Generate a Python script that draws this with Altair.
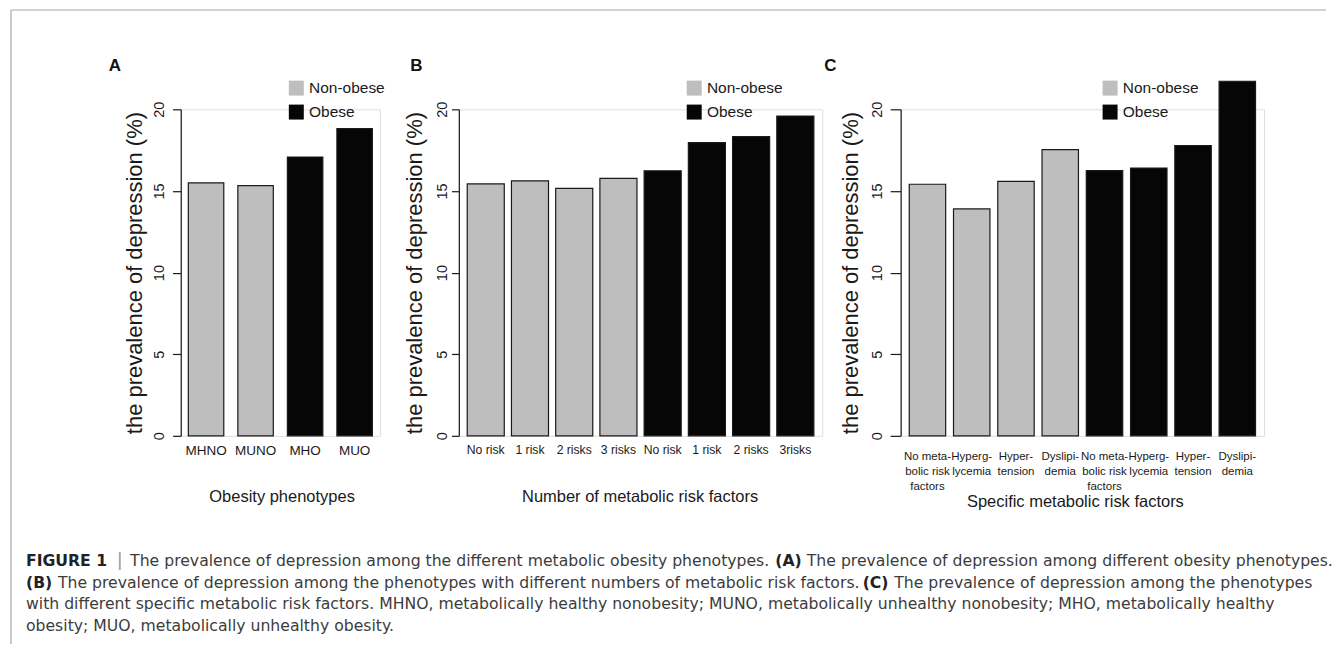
import altair as alt
import pandas as pd

FONT = "Liberation Sans"
CAP_FONT = "DejaVu Sans"
INK = "#1a1a1a"

# ---- data ----
A_labels = ["MHNO", "MUNO", "MHO", "MUO"]
A_groups = ["Non-obese", "Non-obese", "Obese", "Obese"]
A_values = [15.5, 15.33, 17.08, 18.82]

B_labels = ["No risk", "1 risk", "2 risks", "3 risks", "No risk", "1 risk", "2 risks", "3risks"]
B_groups = ["Non-obese"] * 4 + ["Obese"] * 4
B_values = [15.43, 15.62, 15.16, 15.77, 16.23, 17.96, 18.33, 19.59]

C_labels = ["No meta-~bolic risk~factors", "Hyperg-~lycemia", "Hyper-~tension", "Dyslipi-~demia",
            "No meta-~bolic risk~factors", "Hyperg-~lycemia", "Hyper-~tension", "Dyslipi-~demia"]
C_groups = ["Non-obese"] * 4 + ["Obese"] * 4
C_values = [15.41, 13.9, 15.59, 17.53, 16.24, 16.4, 17.78, 21.72]

Y_TICKS = [0, 5, 10, 15, 20]
GROUPS = ["Non-obese", "Obese"]
FILLS = ["#bebebe", "#060606"]
Y_TITLE = "the prevalence of depression (%)"

HEIGHT = 327

CAPTION = [
    # (text, x_abs, line, style)
    ("FIGURE 1", 24, 0, "bold"),
    ("|", 118, 0, "bar"),
    ("The prevalence of depression among the different metabolic obesity phenotypes.", 128.3, 0, "normal"),
    ("(A)", 774.5, 0, "bold"),
    ("The prevalence of depression among different obesity phenotypes.", 806, 0, "normal"),
    ("(B)", 24, 1, "bold"),
    ("The prevalence of depression among the phenotypes with different numbers of metabolic risk factors.", 56, 1, "normal"),
    ("(C)", 862, 1, "bold"),
    ("The prevalence of depression among the phenotypes", 893.5, 1, "normal"),
    ("with different specific metabolic risk factors. MHNO, metabolically healthy nonobesity; MUNO, metabolically unhealthy nonobesity; MHO, metabolically healthy", 24, 2, "normal"),
    ("obesity; MUO, metabolically unhealthy obesity.", 24, 3, "normal"),
]
CAP_LINE_Y = [561.5, 583.5, 604.5, 626.5]

A_ORIGIN = (179, 109.5)  # absolute position of panel A plot area


def panel(letter, labels, groups, values, xtitle, cfg):
    keys = [f"{g}|{l}" for g, l in zip(groups, labels)]
    df = pd.DataFrame({"key": keys, "group": groups, "value": values})
    bars = alt.Chart(df).mark_bar(stroke=INK, strokeWidth=1.2).encode(
        x=alt.X(
            "key:N", sort=keys,
            scale=alt.Scale(paddingInner=cfg["pI"], paddingOuter=cfg["pO"]),
            axis=alt.Axis(
                title=xtitle, labelExpr="split(split(datum.label, '|')[1], '~')",
                labelAngle=0, domain=False, ticks=False, tickSize=0,
                labelPadding=cfg["lp"], labelFontSize=cfg["lfs"], labelLineHeight=15,
                labelBaseline="top", labelFont=FONT, labelColor=INK, labelOverlap=False,
                titleFont=FONT, titleFontSize=16.5, titleFontWeight="normal", titleColor=INK,
                titleX=cfg["xtx"], titleY=cfg["xty"], titleBaseline="middle", titleAlign="center",
            ),
        ),
        y=alt.Y(
            "value:Q",
            scale=alt.Scale(domain=[0, 20], nice=False, zero=True),
            axis=alt.Axis(
                values=Y_TICKS, title=Y_TITLE, format="d", grid=False,
                labelAngle=270, labelAlign="center", labelBaseline="alphabetic",
                labelPadding=cfg["ylp"], tickSize=cfg["ts"], tickColor=INK, tickWidth=1.2,
                domainColor=INK, domainWidth=1.2,
                labelFontSize=14.5, labelFont=FONT, labelColor=INK,
                titleFont=FONT, titleFontSize=22, titleFontWeight="normal", titleColor=INK,
                titleX=cfg["ytx"], titleY=HEIGHT / 2, titleAngle=270,
                titleBaseline="middle", titleAlign="center",
            ),
        ),
        color=alt.Color(
            "group:N",
            scale=alt.Scale(domain=GROUPS, range=FILLS),
            legend=alt.Legend(
                title=None, orient="none", legendX=cfg["lx"], legendY=cfg["ly"],
                symbolType="square", symbolSize=225, symbolStrokeWidth=0, symbolOpacity=1,
                labelFont=FONT, labelFontSize=15.5, labelColor=INK, labelOffset=5,
                rowPadding=7, padding=0,
            ),
        ),
    )
    lab = alt.Chart(pd.DataFrame({"t": [letter]})).mark_text(
        font=FONT, fontSize=17, fontWeight="bold", align="left", baseline="middle", color="#111"
    ).encode(text="t:N", x=alt.value(cfg["px"]), y=alt.value(-43))
    return [bars, lab]


cfgA = dict(pI=0.284, pO=0.153, lp=8, lfs=13.5, xtx=101, xty=60.5, ylp=9, ts=8.3, ytx=-46.5,
            lx=108, ly=-29, px=-72)
cfgB = dict(pI=0.162, pO=0.19, lp=8, lfs=12.2, xtx=181, xty=60.5, ylp=4.5, ts=7.4, ytx=-44.5,
            lx=228, ly=-29, px=-48.7)
cfgC = dict(pI=0.177, pO=0.194, lp=14.5, lfs=11.5, xtx=174.5, xty=66, ylp=8.6, ts=10.5, ytx=-50.5,
            lx=202, ly=-29, px=-76.5)

layersA = panel("A", A_labels, A_groups, A_values, "Obesity phenotypes", cfgA)
layersB = panel("B", B_labels, B_groups, B_values, "Number of metabolic risk factors", cfgB)
layersC = panel("C", C_labels, C_groups, C_values, "Specific metabolic risk factors", cfgC)

# figure frame (top and left border lines) and caption, positioned relative to panel A
ox, oy = A_ORIGIN
one = pd.DataFrame({"a": [0]})
frame_top = alt.Chart(one).mark_rule(color="#a8a8a8", strokeWidth=1.2).encode(
    x=alt.value(9 - ox), x2=alt.value(1326 - ox), y=alt.value(10 - oy))
frame_left = alt.Chart(one).mark_rule(color="#a8a8a8", strokeWidth=1.2).encode(
    x=alt.value(9 - ox), y=alt.value(10 - oy), y2=alt.value(645 - oy))
caption_layers = [frame_top, frame_left]
for text, xa, line, style in CAPTION:
    props = dict(font=CAP_FONT, fontSize=15.7, align="left", baseline="middle", color="#3c3c3c")
    if style == "bold":
        props.update(fontWeight="bold", color="#222222")
    elif style == "bar":
        props.update(align="center", color="#9a9a9a", fontSize=18)
    caption_layers.append(
        alt.Chart(pd.DataFrame({"t": [text]})).mark_text(**props).encode(
            text="t:N", x=alt.value(xa - ox), y=alt.value(CAP_LINE_Y[line] - oy))
    )

pA = alt.layer(*layersA, *caption_layers).properties(width=199.5, height=HEIGHT)
pB = alt.layer(*layersB).properties(width=364, height=HEIGHT)
pC = alt.layer(*layersC).properties(width=364, height=HEIGHT)

chart = (
    alt.hconcat(pA, pB, pC, spacing=78.5, bounds="flush")
    .resolve_scale(x="independent", y="independent", color="independent")
    .resolve_legend(color="independent")
    .properties(padding={"left": 1, "top": 0, "right": 0, "bottom": 0})
    .configure_view(strokeWidth=0)
    .configure(background="white")
)

chart.save("out.html", embed_options={"renderer": "svg", "actions": False})
